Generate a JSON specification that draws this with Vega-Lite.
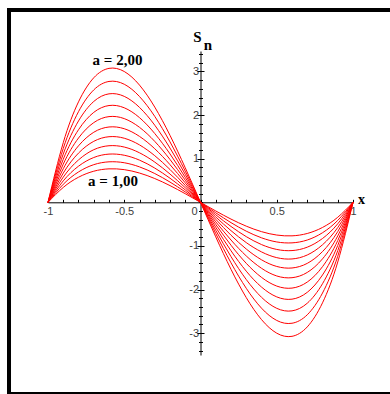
{
  "$schema": "https://vega.github.io/schema/vega-lite/v6.json",
  "width": 305,
  "height": 304,
  "autosize": "none",
  "padding": {"left": 48, "top": 51, "right": 37, "bottom": 39},
  "background": "white",
  "config": {"view": {"stroke": null}},
  "resolve": {"axis": {"x": "independent", "y": "independent"}},
  "layer": [
    {
      "data": {"values": [{"x": -1.2557, "x2": 1.2623, "y": 4.41, "y2": -4.394}]},
      "mark": {"type": "rect", "fillOpacity": 0, "stroke": "black", "strokeWidth": 4, "clip": false},
      "encoding": {
        "x": {"field": "x", "type": "quantitative", "scale": {"domain": [-1, 1], "nice": false, "zero": false}, "axis": null},
        "x2": {"field": "x2"},
        "y": {"field": "y", "type": "quantitative", "scale": {"domain": [-3.5, 3.47], "nice": false, "zero": false},
          "axis": {"orient": "left", "offset": -152.5, "title": null, "grid": false, "domain": false, "labels": false,
            "tickSize": -2, "tickColor": "black", "tickWidth": 1,
            "values": [-3.4,-3.2,-3,-2.8,-2.6,-2.4,-2.2,-2,-1.8,-1.6,-1.4,-1.2,-1,-0.8,-0.6,-0.4,-0.2,0,0.2,0.4,0.6,0.8,1,1.2,1.4,1.6,1.8,2,2.2,2.4,2.6,2.8,3,3.2,3.4]}},
        "y2": {"field": "y2"}
      }
    },
    {
      "data": {"values": [
        {"x": -1, "a10": 0, "a11": 0, "a12": 0, "a13": 0, "a14": 0, "a15": 0, "a16": 0, "a17": 0, "a18": 0, "a19": 0, "a20": 0},
        {"x": -0.9, "a10": 0.342, "a11": 0.414, "a12": 0.492, "a13": 0.578, "a14": 0.670, "a15": 0.770, "a16": 0.876, "a17": 0.988, "a18": 1.108, "a19": 1.235, "a20": 1.368},
        {"x": -0.8, "a10": 0.576, "a11": 0.697, "a12": 0.829, "a13": 0.973, "a14": 1.129, "a15": 1.296, "a16": 1.475, "a17": 1.665, "a18": 1.866, "a19": 2.079, "a20": 2.304},
        {"x": -0.7, "a10": 0.714, "a11": 0.864, "a12": 1.028, "a13": 1.207, "a14": 1.399, "a15": 1.607, "a16": 1.828, "a17": 2.063, "a18": 2.313, "a19": 2.578, "a20": 2.856},
        {"x": -0.6, "a10": 0.768, "a11": 0.929, "a12": 1.106, "a13": 1.298, "a14": 1.505, "a15": 1.728, "a16": 1.966, "a17": 2.220, "a18": 2.488, "a19": 2.772, "a20": 3.072},
        {"x": -0.5, "a10": 0.750, "a11": 0.908, "a12": 1.080, "a13": 1.268, "a14": 1.470, "a15": 1.688, "a16": 1.920, "a17": 2.168, "a18": 2.430, "a19": 2.708, "a20": 3.000},
        {"x": -0.4, "a10": 0.672, "a11": 0.813, "a12": 0.968, "a13": 1.136, "a14": 1.317, "a15": 1.512, "a16": 1.720, "a17": 1.942, "a18": 2.177, "a19": 2.426, "a20": 2.688},
        {"x": -0.3, "a10": 0.546, "a11": 0.661, "a12": 0.786, "a13": 0.923, "a14": 1.070, "a15": 1.229, "a16": 1.398, "a17": 1.578, "a18": 1.769, "a19": 1.971, "a20": 2.184},
        {"x": -0.2, "a10": 0.384, "a11": 0.465, "a12": 0.553, "a13": 0.649, "a14": 0.753, "a15": 0.864, "a16": 0.983, "a17": 1.110, "a18": 1.244, "a19": 1.386, "a20": 1.536},
        {"x": -0.1, "a10": 0.198, "a11": 0.240, "a12": 0.285, "a13": 0.335, "a14": 0.388, "a15": 0.446, "a16": 0.507, "a17": 0.572, "a18": 0.642, "a19": 0.715, "a20": 0.792},
        {"x": 0, "a10": 0, "a11": 0, "a12": 0, "a13": 0, "a14": 0, "a15": 0, "a16": 0, "a17": 0, "a18": 0, "a19": 0, "a20": 0},
        {"x": 0.1, "a10": -0.198, "a11": -0.240, "a12": -0.285, "a13": -0.335, "a14": -0.388, "a15": -0.446, "a16": -0.507, "a17": -0.572, "a18": -0.642, "a19": -0.715, "a20": -0.792},
        {"x": 0.2, "a10": -0.384, "a11": -0.465, "a12": -0.553, "a13": -0.649, "a14": -0.753, "a15": -0.864, "a16": -0.983, "a17": -1.110, "a18": -1.244, "a19": -1.386, "a20": -1.536},
        {"x": 0.3, "a10": -0.546, "a11": -0.661, "a12": -0.786, "a13": -0.923, "a14": -1.070, "a15": -1.229, "a16": -1.398, "a17": -1.578, "a18": -1.769, "a19": -1.971, "a20": -2.184},
        {"x": 0.4, "a10": -0.672, "a11": -0.813, "a12": -0.968, "a13": -1.136, "a14": -1.317, "a15": -1.512, "a16": -1.720, "a17": -1.942, "a18": -2.177, "a19": -2.426, "a20": -2.688},
        {"x": 0.5, "a10": -0.750, "a11": -0.908, "a12": -1.080, "a13": -1.268, "a14": -1.470, "a15": -1.688, "a16": -1.920, "a17": -2.168, "a18": -2.430, "a19": -2.708, "a20": -3.000},
        {"x": 0.6, "a10": -0.768, "a11": -0.929, "a12": -1.106, "a13": -1.298, "a14": -1.505, "a15": -1.728, "a16": -1.966, "a17": -2.220, "a18": -2.488, "a19": -2.772, "a20": -3.072},
        {"x": 0.7, "a10": -0.714, "a11": -0.864, "a12": -1.028, "a13": -1.207, "a14": -1.399, "a15": -1.607, "a16": -1.828, "a17": -2.063, "a18": -2.313, "a19": -2.578, "a20": -2.856},
        {"x": 0.8, "a10": -0.576, "a11": -0.697, "a12": -0.829, "a13": -0.973, "a14": -1.129, "a15": -1.296, "a16": -1.475, "a17": -1.665, "a18": -1.866, "a19": -2.079, "a20": -2.304},
        {"x": 0.9, "a10": -0.342, "a11": -0.414, "a12": -0.492, "a13": -0.578, "a14": -0.670, "a15": -0.770, "a16": -0.876, "a17": -0.988, "a18": -1.108, "a19": -1.235, "a20": -1.368},
        {"x": 1, "a10": 0, "a11": 0, "a12": 0, "a13": 0, "a14": 0, "a15": 0, "a16": 0, "a17": 0, "a18": 0, "a19": 0, "a20": 0}
      ]},
      "transform": [{"fold": ["a10","a11","a12","a13","a14","a15","a16","a17","a18","a19","a20"], "as": ["a", "y"]}],
      "mark": {"type": "line", "color": "#ff0000", "strokeWidth": 1, "interpolate": "natural"},
      "encoding": {
        "x": {"field": "x", "type": "quantitative", "scale": {"domain": [-1, 1], "nice": false, "zero": false},
          "axis": {"orient": "bottom", "offset": -152.7, "title": null, "grid": false,
            "domainColor": "black", "domainWidth": 1, "tickColor": "black", "tickWidth": 1, "tickSize": -3,
            "labelPadding": 6, "labelFont": "Liberation Sans", "labelFontSize": 11, "labelColor": "#404040",
            "labelFlush": false, "labelOverlap": false, "labelBound": false,
            "labelOffset": {"condition": {"test": "datum.value === 0", "value": -6.5}, "value": 0},
            "labelExpr": "abs(datum.value*2 - round(datum.value*2)) < 0.000001 ? toString(datum.value) : ''",
            "values": [-1,-0.9,-0.8,-0.7,-0.6,-0.5,-0.4,-0.3,-0.2,-0.1,0,0.1,0.2,0.3,0.4,0.5,0.6,0.7,0.8,0.9,1]}},
        "y": {"field": "y", "type": "quantitative", "scale": {"domain": [-3.5, 3.47], "nice": false, "zero": false},
          "axis": {"orient": "left", "offset": -152.5, "title": null, "grid": false,
            "domainColor": "black", "domainWidth": 1, "tickColor": "black", "tickWidth": 1, "tickSize": 2,
            "labelPadding": 0, "labelFont": "Liberation Sans", "labelFontSize": 11, "labelColor": "#404040",
            "labelFlush": false, "labelOverlap": false, "labelBound": false,
            "labelExpr": "datum.value === round(datum.value) && datum.value !== 0 ? toString(datum.value) : ''",
            "values": [-3.4,-3.2,-3,-2.8,-2.6,-2.4,-2.2,-2,-1.8,-1.6,-1.4,-1.2,-1,-0.8,-0.6,-0.4,-0.2,0,0.2,0.4,0.6,0.8,1,1.2,1.4,1.6,1.8,2,2.2,2.4,2.6,2.8,3,3.2,3.4]}},
        "detail": {"field": "a", "type": "nominal"}
      }
    },
    {
      "data": {"values": [{"x": -0.5443, "y": 3.138, "label": "a = 2,00"}, {"x": -0.5738, "y": 0.375, "label": "a = 1,00"}]},
      "mark": {"type": "text", "font": "Liberation Serif", "fontWeight": "bold", "fontSize": 15, "align": "center", "baseline": "alphabetic", "color": "black"},
      "encoding": {
        "x": {"field": "x", "type": "quantitative", "scale": {"domain": [-1, 1], "nice": false, "zero": false}, "axis": null},
        "y": {"field": "y", "type": "quantitative", "scale": {"domain": [-3.5, 3.47], "nice": false, "zero": false},
          "axis": {"orient": "left", "offset": -152.5, "title": null, "grid": false, "domain": false, "labels": false,
            "tickSize": 3.5, "tickColor": "black", "tickWidth": 1, "values": [-3,-2,-1,1,2,3]}},
        "text": {"field": "label"}
      }
    },
    {
      "data": {"values": [{"x": -0.0197, "y": 3.676, "label": "S"}]},
      "mark": {"type": "text", "font": "Liberation Serif", "fontWeight": "bold", "fontSize": 15, "align": "center", "baseline": "alphabetic", "color": "black"},
      "encoding": {
        "x": {"field": "x", "type": "quantitative", "scale": {"domain": [-1, 1], "nice": false, "zero": false}, "axis": null},
        "y": {"field": "y", "type": "quantitative", "scale": {"domain": [-3.5, 3.47], "nice": false, "zero": false},
          "axis": {"orient": "left", "offset": -152.5, "title": null, "grid": false, "domain": false, "labels": false,
            "tickSize": -3.5, "tickColor": "black", "tickWidth": 1, "values": [-3,-2,-1,1,2,3]}},
        "text": {"field": "label"}
      }
    },
    {
      "data": {"values": [{"x": 0.0492, "y": 3.493, "label": "n"}]},
      "mark": {"type": "text", "font": "Liberation Serif", "fontWeight": "bold", "fontSize": 15, "align": "center", "baseline": "alphabetic", "color": "black"},
      "encoding": {
        "x": {"field": "x", "type": "quantitative", "scale": {"domain": [-1, 1], "nice": false, "zero": false}, "axis": null},
        "y": {"field": "y", "type": "quantitative", "scale": {"domain": [-3.5, 3.47], "nice": false, "zero": false}, "axis": null},
        "text": {"field": "label"}
      }
    },
    {
      "data": {"values": [{"x": 1.0557, "y": -0.038, "label": "x"}]},
      "mark": {"type": "text", "font": "Liberation Serif", "fontWeight": "bold", "fontSize": 14, "align": "center", "baseline": "alphabetic", "color": "black"},
      "encoding": {
        "x": {"field": "x", "type": "quantitative", "scale": {"domain": [-1, 1], "nice": false, "zero": false}, "axis": null},
        "y": {"field": "y", "type": "quantitative", "scale": {"domain": [-3.5, 3.47], "nice": false, "zero": false}, "axis": null},
        "text": {"field": "label"}
      }
    }
  ]
}
